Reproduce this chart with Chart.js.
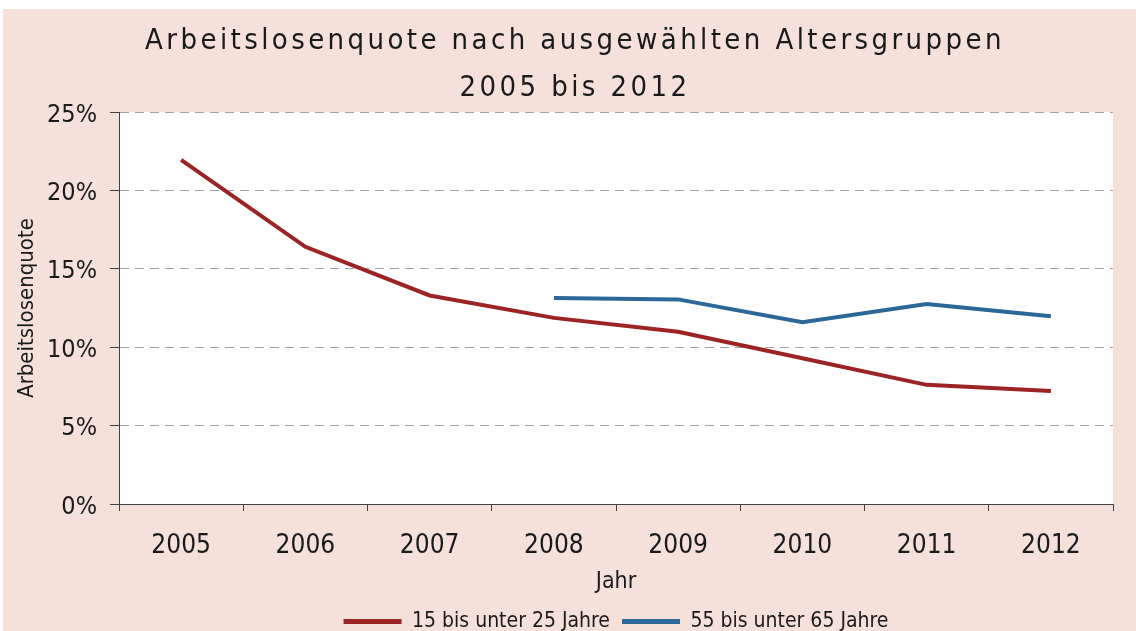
<!DOCTYPE html>
<html>
<head>
<meta charset="utf-8">
<script src="https://cdn.jsdelivr.net/npm/chart.js@4.4.1/dist/chart.umd.min.js"></script>
<style>
  html, body { margin: 0; padding: 0; background: #fff; }
  #wrap { position: absolute; left: 3px; top: 9px; width: 1133px; height: 622px; background: #f5e1da; }
</style>
</head>
<body>
<div id="wrap"><canvas id="chart"></canvas></div>
<script>
// --- Data ---
const years = ['2005', '2006', '2007', '2008', '2009', '2010', '2011', '2012'];
const youth = [21.95, 16.4, 13.3, 11.87, 10.98, 9.3, 7.6, 7.2];
const older = [null, null, null, 13.14, 13.05, 11.6, 12.75, 11.98];
const seriesNames = ['15 bis unter 25 Jahre', '55 bis unter 65 Jahre'];
const titleLines = ['Arbeitslosenquote nach ausgewählten Altersgruppen', '2005 bis 2012'];

const FONT = "'Liberation Sans Narrow', 'DejaVu Sans Condensed', sans-serif";
const TEXT = '#1a1a1a';
const AXIS = '#404040';
const RED = '#9c2323';
const BLUE = '#2b6799';

// white plot area
const plotBg = {
  id: 'plotBg',
  beforeDraw(chart) {
    const { ctx, chartArea: a } = chart;
    ctx.save();
    ctx.fillStyle = '#fff';
    ctx.fillRect(a.left, a.top, a.right - a.left, a.bottom - a.top);
    ctx.restore();
  },
};

// wide tracking on the title only
const titleTracking = {
  id: 'titleTracking',
  beforeDraw(chart) {
    const t = chart.titleBlock;
    if (!t || t._tracked) return;
    const orig = t.draw.bind(t);
    t.draw = function () {
      chart.ctx.save();
      chart.ctx.letterSpacing = '3.4px';
      orig();
      chart.ctx.restore();
    };
    t._tracked = true;
  },
};

new Chart(document.getElementById('chart'), {
  type: 'line',
  data: {
    labels: years,
    datasets: [
      {
        label: seriesNames[0],
        data: youth,
        borderColor: RED,
        backgroundColor: RED,
        borderWidth: 4,
        pointRadius: 0,
        pointBorderWidth: 5,
        tension: 0,
      },
      {
        label: seriesNames[1],
        data: older,
        borderColor: BLUE,
        backgroundColor: BLUE,
        borderWidth: 4,
        pointRadius: 0,
        pointBorderWidth: 5,
        tension: 0,
      },
    ],
  },
  options: {
    responsive: true,
    maintainAspectRatio: false,
    animation: false,
    devicePixelRatio: 1,
    events: [],
    layout: { padding: { left: 34, right: 23, top: 0, bottom: -11 } },
    plugins: {
      title: {
        display: true,
        text: titleLines,
        color: TEXT,
        font: { family: FONT, size: 29, weight: 'normal', lineHeight: '47px' },
        padding: { top: 9, bottom: 0 },
      },
      legend: {
        position: 'bottom',
        fullSize: false,
        labels: {
          color: TEXT,
          font: { family: FONT, size: 21, lineHeight: 1 },
          usePointStyle: true,
          pointStyle: 'line',
          pointStyleWidth: 58,
          padding: 12,
        },
      },
      tooltip: { enabled: false },
    },
    scales: {
      x: {
        offset: true,
        grid: { offset: true, drawOnChartArea: false, tickLength: 7, color: AXIS },
        border: { color: AXIS, width: 1 },
        ticks: { color: TEXT, font: { family: FONT, size: 26 }, padding: 20, maxRotation: 0 },
        title: {
          display: true,
          text: 'Jahr',
          color: TEXT,
          font: { family: FONT, size: 23, lineHeight: 1.2 },
          padding: { top: 0, bottom: 3 },
        },
        afterFit(scale) { scale.height = 95; },
      },
      y: {
        min: 0,
        max: 25,
        grid: { color: '#a3a3a3', tickColor: AXIS, tickLength: 9, lineWidth: 1 },
        border: { color: AXIS, width: 1, dash: [9, 6] },
        ticks: {
          stepSize: 5,
          color: TEXT,
          font: { family: FONT, size: 25 },
          padding: 13,
          labelOffset: 3,
          callback: (v) => v + '%',
        },
        title: {
          display: true,
          text: 'Arbeitslosenquote',
          color: TEXT,
          font: { family: FONT, size: 22, lineHeight: 1.2 },
          padding: { top: -23, bottom: 0 },
        },
        afterFit(scale) { scale.width = 82; },
      },
    },
  },
  plugins: [plotBg, titleTracking],
});
</script>
</body>
</html>
